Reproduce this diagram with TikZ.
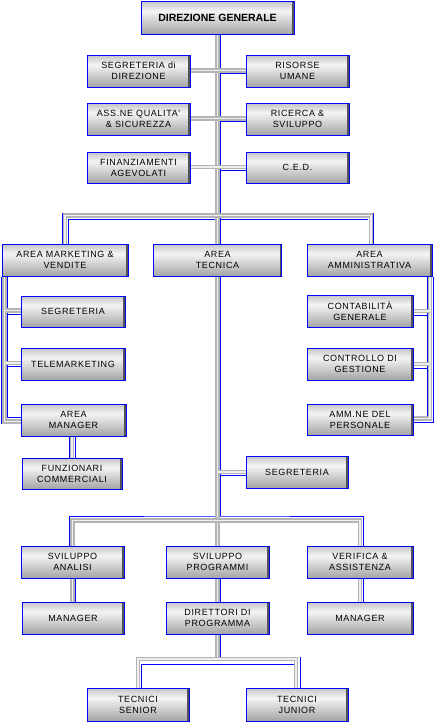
\documentclass[tikz,border=0pt]{standalone}
\usepackage{fontspec}
\newfontfamily\orgfont[LetterSpace=7]{Liberation Sans}
\newfontfamily\orgfontb{Liberation Sans}
\usetikzlibrary{calc}
\definecolor{shbot}{HTML}{A4A4A4}
\definecolor{shlight}{HTML}{F4F4F4}
\definecolor{shtop}{HTML}{C4C4C4}
\definecolor{pipegray}{HTML}{B4B4B4}
\definecolor{pipelight}{HTML}{EEEEEE}
\definecolor{orgblue}{HTML}{0000FF}
\pgfdeclareverticalshading{boxshade}{100bp}{color(0bp)=(shbot); color(25bp)=(shbot); color(60bp)=(shlight); color(75bp)=(shtop); color(100bp)=(shtop)}
\pgfdeclarelayer{bg}
\pgfsetlayers{bg,main}
\begin{document}
\begin{tikzpicture}[x=1pt,y=-1pt,
  obox/.style={draw=orgblue, line width=1pt, shade, shading=boxshade, align=center,
    inner sep=0pt, minimum width=103pt, minimum height=32pt,
    font=\orgfont\fontsize{9}{11}\selectfont,
    path picture={\draw[line width=1.4pt, gray!65!black]
      ([xshift=-1.2pt]path picture bounding box.north east) --
      ([xshift=-1.2pt]path picture bounding box.south east);}},
  pipe/.style={draw=pipegray, line width=4.5pt, line join=miter,
    postaction={draw=pipelight, line width=1.5pt}},
  bl/.style={draw=orgblue, line width=1pt}]
\useasboundingbox (0,0) rectangle (434,723);

% nodes
\node[obox, minimum width=153pt, minimum height=33pt,
  font=\orgfontb\bfseries\fontsize{10.5}{12}\selectfont] (dg) at (217.5,17.5) {DIREZIONE GENERALE};
\node[obox] (seg) at (138.5,71) {SEGRETERIA di\\DIREZIONE};
\node[obox] (ris) at (297.5,71) {RISORSE\\UMANE};
\node[obox] (ass) at (138.5,119) {ASS.NE QUALITA'\\\& SICUREZZA};
\node[obox] (ric) at (297.5,119) {RICERCA \&\\SVILUPPO};
\node[obox, minimum height=31pt] (fin) at (138.5,167.5) {FINANZIAMENTI\\AGEVOLATI};
\node[obox, minimum height=31pt] (ced) at (297.5,167.5) {C.E.D.};

\node[obox, minimum width=126pt] (amv) at (65,260) {AREA MARKETING \&\\VENDITE};
\node[obox, minimum width=128pt] (atec) at (217.5,260) {AREA\\TECNICA};
\node[obox, minimum width=125pt] (aa) at (369.5,260) {AREA\\AMMINISTRATIVA};

\node[obox, minimum width=104pt, minimum height=31pt] (segm) at (73,311.5) {SEGRETERIA};
\node[obox, minimum width=104pt] (tele) at (73,364) {TELEMARKETING};
\node[obox, minimum width=105pt] (am) at (73.5,420) {AREA\\MANAGER};
\node[obox, minimum width=100pt, minimum height=31pt] (funz) at (72,473.5) {FUNZIONARI\\COMMERCIALI};

\node[obox, minimum width=106pt] (cont) at (360,311) {CONTABILITÀ\\GENERALE};
\node[obox, minimum width=106pt] (ctrl) at (360,364) {CONTROLLO DI\\GESTIONE};
\node[obox, minimum width=106pt, minimum height=31pt] (amm) at (360,419.5) {AMM.NE DEL\\PERSONALE};

\node[obox, minimum width=102pt] (segt) at (297,472) {SEGRETERIA};

\node[obox] (sa) at (72.5,562) {SVILUPPO\\ANALISI};
\node[obox] (sp) at (217.5,562) {SVILUPPO\\PROGRAMMI};
\node[obox, minimum width=106pt] (va) at (360,562) {VERIFICA \&\\ASSISTENZA};
\node[obox, minimum width=102pt] (man1) at (73,618) {MANAGER};
\node[obox] (dir) at (217.5,618) {DIRETTORI DI\\PROGRAMMA};
\node[obox, minimum width=106pt] (man2) at (360,618) {MANAGER};

\node[obox, minimum width=102pt, minimum height=33pt] (ts) at (138,704.5) {TECNICI\\SENIOR};
\node[obox, minimum width=102pt, minimum height=33pt] (tj) at (297,704.5) {TECNICI\\JUNIOR};

% helper coordinates
\coordinate (b1) at (217.5,215.5);
\coordinate (b1t) at (217.5,213);
\coordinate (b1i) at (217.5,219);
\coordinate (b2) at (217.5,520.5);
\coordinate (b2o) at (217.5,516);
\coordinate (b3) at (217.5,659);
\coordinate (b3t) at (217.5,656.5);
\coordinate (b3i) at (217.5,664);
\coordinate (tb1) at ([xshift=3]dg.south);
\coordinate (tb2) at ([xshift=3]atec.south);
\coordinate (lb) at ([xshift=3]amv.south west);
\coordinate (lbo) at ([xshift=-3]lb);
\coordinate (lbi) at ([xshift=3]lb);
\coordinate (rb) at ([xshift=-2.5]aa.south east);
\coordinate (rbi) at ([xshift=-3]rb);
\coordinate (rbo) at ([xshift=3]rb);
\coordinate (ammu) at ([yshift=3]amm.east);
\coordinate (amlo) at ([yshift=-3.5]am.west);
\coordinate (af) at ([xshift=-1.5]am.south);

\begin{pgfonlayer}{bg}
\fill[white] (0,0) rectangle (434,723);
% ---- blue lines
\draw[bl] (tb1) -- (tb1 |- atec.north);
\foreach \r in {ris,ric,ced}
  \draw[bl] ([yshift=-2.5]\r.west -| tb1) -- ([yshift=-2.5]\r.west);
\draw[bl] ([xshift=-2.5]amv.north) -- ([xshift=-2.5]amv.north |- b1t);
\draw[bl] ([xshift=3.5]amv.north) |- ([xshift=-1.5]aa.north |- b1i);
\draw[bl] ([xshift=4]aa.north) -- ([xshift=4]aa.north |- b1t);
% left branch
\draw[bl] (lbo) -- (lbo |- amlo);
\draw[bl] (lbi) |- ([yshift=3]am.west);
\foreach \b in {segm,tele}
  \draw[bl] ([yshift=-2.5]\b.west -| lbi) -- ([yshift=-2.5]\b.west);
% right branch
\draw[bl] (rbo) |- ([yshift=-3]amm.east);
\draw[bl] (rbi) -- (rbi |- ammu);
\foreach \b in {cont,ctrl}
  \draw[bl] ([yshift=-4]\b.east -| rbi) -- ([yshift=-4]\b.east);
% area manager -> funzionari
\draw[bl] ([xshift=-3]af) -- ([xshift=-3]af |- funz.north);
\draw[bl] ([xshift=3]af) -- ([xshift=3]af |- funz.north);
% technical trunk
\draw[bl] (tb2) -- (tb2 |- b2o);
\draw[bl] ([yshift=-3]segt.west -| tb2) -- ([yshift=-3]segt.west);
\draw[bl] ([xshift=-3]sa.north) |- (b2o) -| ([xshift=3]va.north);
\foreach \a/\b in {sa/man1,sp/dir,va/man2}
  \draw[bl] ([xshift=3]\a.south) -- ([xshift=3]\a.south |- \b.north);
% bottom bus
\draw[bl] ([xshift=2.5]dir.south) -- ([xshift=2.5]dir.south |- b3t);
\draw[bl] ([xshift=3]ts.north) |- ([xshift=-3]tj.north |- b3i);
\draw[bl] ([xshift=3]tj.north) -- ([xshift=3]tj.north |- b3t);

% ---- gray pipes
\draw[pipe] (dg.south) -- (atec.north);
\foreach \l/\r in {seg/ris,ass/ric,fin/ced}
  \draw[pipe] ([yshift=0.5]\l.east) -- ([yshift=0.5]\r.west);
\draw[pipe] (amv.north) |- (b1) -| ([xshift=1.5]aa.north);
\draw[pipe] (lb) |- ([yshift=-1.5]am.west);
\foreach \b in {segm,tele}
  \draw[pipe] ([yshift=1]\b.west -| lb) -- ([yshift=1]\b.west);
\draw[pipe] (rb) |- ([yshift=1]amm.east);
\foreach \b in {cont,ctrl}
  \draw[pipe] (\b.east) -- (\b.east -| rb);
\draw[pipe] (af) -- (af |- funz.north);
\draw[pipe] (atec.south) -- (sp.north);
\draw[pipe] (segt.west -| atec.south) -- (segt.west);
\draw[pipe] (sa.north) |- (b2) -| (va.north);
\foreach \a/\b in {sa/man1,sp/dir,va/man2}
  \draw[pipe] (\a.south) -- (\a.south |- \b.north);
\draw[pipe] (dir.south) -- (dir.south |- b3);
\draw[pipe] (ts.north) |- (b3) -| ([xshift=-1]tj.north);
\end{pgfonlayer}
\end{tikzpicture}
\end{document}
